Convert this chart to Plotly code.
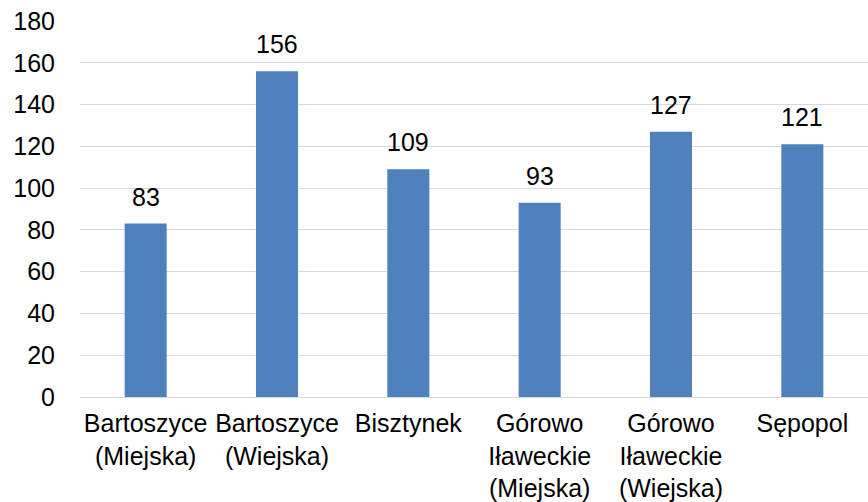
import plotly.graph_objects as go

categories = [
    'Bartoszyce<br>(Miejska)',
    'Bartoszyce<br>(Wiejska)',
    'Bisztynek',
    'Górowo<br>Iławeckie<br>(Miejska)',
    'Górowo<br>Iławeckie<br>(Wiejska)',
    'Sępopol',
]
values = [83, 156, 109, 93, 127, 121]

fig = go.Figure()
fig.add_trace(go.Bar(
    x=categories,
    y=values,
    marker=dict(color='#4F81BD', line=dict(width=0)),
    width=0.32,
))

# value labels above the bars
for cat, val in zip(categories, values):
    fig.add_annotation(
        x=cat, y=val, text=str(val),
        showarrow=False, yanchor='bottom', yshift=11,
        font=dict(size=25, color='#000000'),
    )

fig.update_layout(
    width=868,
    height=502,
    margin=dict(l=80, r=0, t=21, b=105),
    paper_bgcolor='white',
    plot_bgcolor='white',
    font=dict(family='Liberation Sans, Arial, sans-serif', size=25, color='#000000'),
    showlegend=False,
)
fig.update_xaxes(
    showgrid=False,
    showline=True,
    linecolor='#D9D9D9',
    linewidth=1,
    ticks='',
    ticklabelstandoff=4,
    tickangle=0,
    tickfont=dict(size=25),
    automargin=False,
)
fig.update_yaxes(
    range=[0, 180],
    dtick=20,
    showgrid=True,
    gridcolor='#D9D9D9',
    gridwidth=1,
    zeroline=False,
    showline=False,
    ticks='',
    ticklabelstandoff=24,
    tickfont=dict(size=25),
    automargin=False,
)

fig.write_html(
    "out.html",
    config={'displayModeBar': False},
    post_script="document.body.style.margin='0';document.body.style.overflow='hidden';",
)
